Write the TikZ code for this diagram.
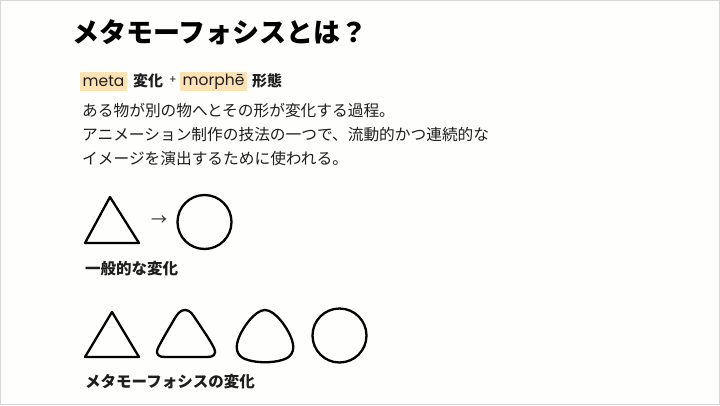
\documentclass[tikz,border=0pt]{standalone}
\usepackage{fontspec}
\setmainfont{Noto Sans CJK JP}
\newfontfamily\latinfont{Poppins}
\definecolor{bgc}{HTML}{FEFEFC}
\definecolor{framec}{HTML}{D8D8D8}
\definecolor{hl}{HTML}{FDE2B3}
\definecolor{txt}{HTML}{1E1E1E}
\tikzset{
  lbl/.style={anchor=west, inner sep=0pt, text=txt},
  shapeline/.style={draw=black, line width=2.3pt, line join=round},
  hlbox/.style={anchor=west, fill=hl, inner xsep=2.5pt, inner ysep=0pt, minimum height=19pt, text=txt, font=\latinfont\fontsize{15.5}{18}\selectfont},
}
\begin{document}
\begin{tikzpicture}[x=1pt,y=-1pt]
\fill[bgc] (0,0) rectangle (720,405);
\draw[framec, line width=1pt] (0.5,0.5) rectangle (719.5,404.5);
\useasboundingbox (0,0) rectangle (720,405);

% title
\node[lbl, font=\bfseries\fontsize{27}{32}\selectfont, text=black] (title) at (72,32) {メタモーフォシスとは？};

% etymology line
\node[hlbox] (meta) at (80,81.5) {meta};
\node[lbl, font=\bfseries\fontsize{15}{18}\selectfont] (henka) at (133,81) {変化};
\node[lbl, font=\latinfont\fontsize{11}{13}\selectfont] (plus) at (169,80) {+};
\node[hlbox] (morphe) at (180,81.5) {morphē};
\node[lbl, font=\bfseries\fontsize{15}{18}\selectfont] (keitai) at (252,81) {形態};

% body text
\node[lbl, font=\fontsize{15.7}{18}\selectfont] (b1) at (82,111) {ある物が別の物へとその形が変化する過程。};
\node[lbl, font=\fontsize{15.7}{18}\selectfont] (b2) at (82,135) {アニメーション制作の技法の一つで、流動的かつ連続的な};
\node[lbl, font=\fontsize{15.7}{18}\selectfont] (b3) at (82,159) {イメージを演出するために使われる。};

% row 1
\draw[shapeline] (110,197) -- (139,243) -- (85,243) -- cycle;
\node[lbl, font=\fontsize{16}{18}\selectfont, text=black!85] (arrow) at (151,221) {→};
\draw[shapeline] (204.5,222) circle (27);
\node[lbl, font=\bfseries\fontsize{15.5}{18}\selectfont] (l1) at (85,269) {一般的な変化};

% row 2
\draw[shapeline] (112,312) -- (139,357) -- (85,357) -- cycle;
\draw[shapeline] (185,310)
  .. controls (189,310) and (192,313) .. (195,318)
  .. controls (203,330) and (210,340) .. (214,348)
  .. controls (217,355) and (213,357) .. (207,357)
  -- (165,357)
  .. controls (159,357) and (155,355) .. (158,348)
  .. controls (162,340) and (168,330) .. (175,318)
  .. controls (178,313) and (181,310) .. (185,310) -- cycle;
\draw[shapeline] (265,310)
  .. controls (275,310) and (288,328) .. (292,340)
  .. controls (296,352) and (290,358) .. (282,360)
  .. controls (272,363) and (258,363) .. (248,360)
  .. controls (240,358) and (234,352) .. (238,340)
  .. controls (242,328) and (255,310) .. (265,310) -- cycle;
\draw[shapeline] (339.5,335.5) circle (27);
\node[lbl, font=\bfseries\fontsize{15.5}{18}\selectfont] (l2) at (85,382) {メタモーフォシスの変化};
\end{tikzpicture}
\end{document}
